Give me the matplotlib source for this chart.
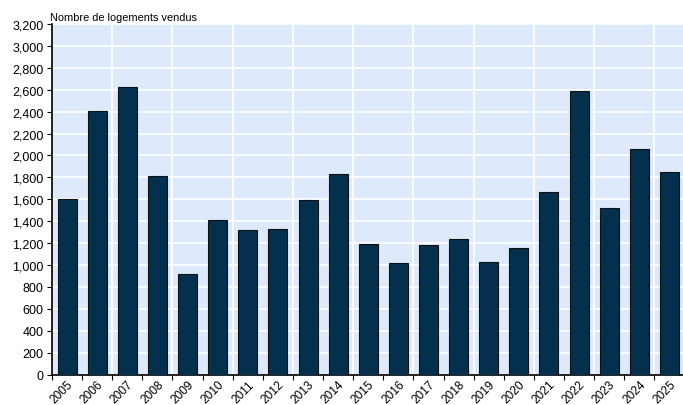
import matplotlib
matplotlib.use("Agg")
import matplotlib.pyplot as plt
import numpy as np
from matplotlib.ticker import FuncFormatter, FixedLocator

years = [str(y) for y in range(2005, 2026)]
sales = [1605, 2405, 2622, 1816, 922, 1407, 1318, 1326, 1590, 1833, 1188,
         1015, 1179, 1236, 1027, 1152, 1670, 2588, 1524, 2062, 1845]
title = "Nombre de logements vendus"

plt.rcParams['font.family'] = ['Liberation Sans', 'DejaVu Sans']

W, H = 683, 406
fig = plt.figure(figsize=(W / 100, H / 100), dpi=100)
left, right, top, bottom = 52, 683, 25, 375.6
ax = fig.add_axes([left / W, (H - bottom) / H, (right - left) / W, (bottom - top) / H])

x = np.arange(len(years))
ax.set_facecolor('#deeafb')
ax.bar(x, sales, width=0.63, color='#04304d', edgecolor='#111111', linewidth=0.8, zorder=3)

ax.set_xlim(-0.5, len(years) - 0.5 - 0.05)
ax.set_ylim(0, 3200)
ax.set_yticks(np.arange(0, 3201, 200))
ax.yaxis.set_major_formatter(FuncFormatter(lambda v, p: f"{int(v):,}"))

ax.set_xticks(x)
ax.set_xticklabels(years, rotation=45, ha='right', rotation_mode='anchor', fontsize=8.6)
ax.xaxis.set_minor_locator(FixedLocator(x - 0.5))
ax.tick_params(axis='x', which='major', length=0, pad=2.5)
ax.tick_params(axis='x', which='minor', length=3.5, width=0.8, direction='out')
ax.tick_params(axis='y', length=3.5, width=0.8, direction='out', labelsize=9, pad=2.5)

# grid
for v in np.arange(200, 3201, 200):
    ax.axhline(v, color='white', linewidth=1.2, zorder=1)
for gx in np.arange(1.5, len(years) - 0.5, 2):
    ax.axvline(gx, color='white', linewidth=1.2, zorder=1)

for s in ['top', 'right']:
    ax.spines[s].set_visible(False)
ax.spines['left'].set_linewidth(1.2)
ax.spines['bottom'].set_linewidth(1.2)

fig.text(50 / W, 1 - 18 / H, title, fontsize=7.9, ha='left', va='center')

fig.savefig('out.png', dpi=100)
